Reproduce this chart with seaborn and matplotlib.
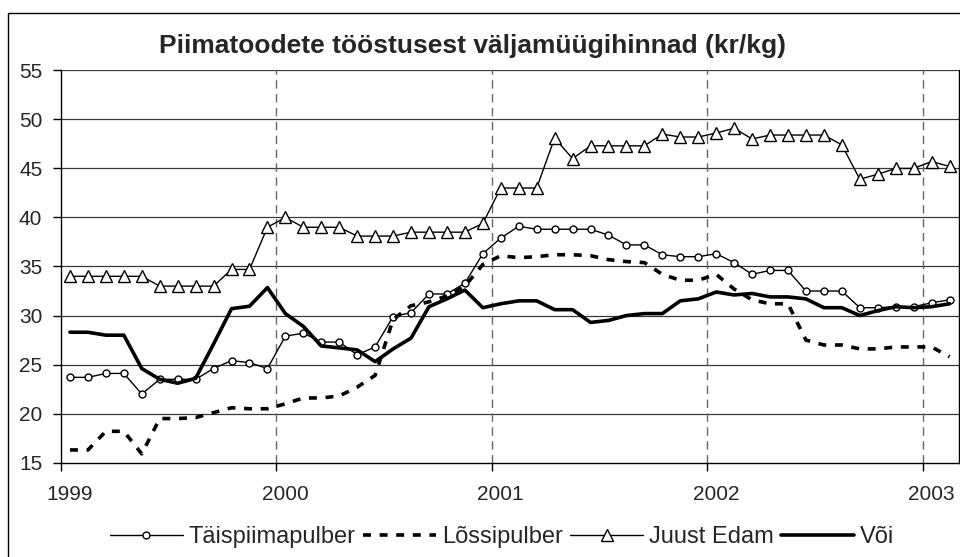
import numpy as np
import pandas as pd
import matplotlib
matplotlib.use("Agg")
import matplotlib.pyplot as plt
import seaborn as sns
from matplotlib.patches import Rectangle

# monthly prices, Jan 1999 .. Feb 2003
years = ["1999", "2000", "2001", "2002", "2003"]
n_months = 50

taispiim = [23.7, 23.7, 24.1, 24.1, 22.0, 23.5, 23.5, 23.5, 24.6, 25.4, 25.2, 24.6,
            27.9, 28.2, 27.3, 27.3, 26.0, 26.8, 29.9, 30.3, 32.2, 32.2, 33.3, 36.3,
            37.9, 39.1, 38.8, 38.8, 38.8, 38.8, 38.2, 37.2, 37.2, 36.2, 36.0, 36.0,
            36.3, 35.4, 34.2, 34.6, 34.6, 32.5, 32.5, 32.5, 30.8, 30.8, 30.9, 30.9,
            31.3, 31.6]
lossipulber = [16.3, 16.3, 18.2, 18.2, 15.9, 19.5, 19.5, 19.6, 20.1, 20.6, 20.5, 20.5,
               21.0, 21.6, 21.6, 21.8, 22.7, 23.9, 29.6, 31.0, 31.4, 32.0, 33.0, 35.2,
               36.1, 35.9, 36.0, 36.2, 36.2, 36.1, 35.7, 35.5, 35.4, 34.2, 33.6, 33.6,
               34.2, 32.7, 31.6, 31.2, 31.2, 27.5, 27.0, 27.0, 26.6, 26.6, 26.8, 26.8,
               26.8, 25.8]
juust_edam = [34.0, 34.0, 34.0, 34.0, 34.0, 33.0, 33.0, 33.0, 33.0, 34.7, 34.7, 39.0,
              40.0, 39.0, 39.0, 39.0, 38.1, 38.1, 38.1, 38.5, 38.5, 38.5, 38.5, 39.4,
              43.0, 43.0, 43.0, 48.1, 46.0, 47.3, 47.3, 47.3, 47.3, 48.5, 48.2, 48.2,
              48.6, 49.1, 48.0, 48.4, 48.4, 48.4, 48.4, 47.4, 43.9, 44.4, 45.0, 45.0,
              45.7, 45.2]
voi = [28.3, 28.3, 28.0, 28.0, 24.6, 23.5, 23.1, 23.6, 27.1, 30.7, 30.95, 32.85,
       30.2, 28.9, 26.9, 26.7, 26.5, 25.3, 26.6, 27.7, 30.9, 31.7, 32.6, 30.8,
       31.2, 31.5, 31.5, 30.6, 30.6, 29.3, 29.5, 30.0, 30.2, 30.2, 31.5, 31.7,
       32.4, 32.1, 32.25, 31.9, 31.9, 31.7, 30.8, 30.8, 30.0, 30.5, 30.9, 30.8,
       30.9, 31.2]

sns.set_style("white")
plt.rcParams['font.family'] = ['Liberation Sans', 'DejaVu Sans']

fig = plt.figure(figsize=(9.6, 5.57), dpi=100)
ax = fig.add_axes([61/960, 1-462.7/557, (958.5-61)/960, (462.7-70.3)/557])

x = np.arange(n_months) + 0.5   # category centres

sns.lineplot(x=x, y=taispiim, ax=ax, color='black', lw=1, marker='o', markersize=5,
             markerfacecolor='white', markeredgecolor='black', markeredgewidth=1,
             label='Täispiimapulber')
sns.lineplot(x=x, y=lossipulber, ax=ax, color='black', lw=2.6, label='Lõssipulber',
             dashes=False, linestyle=(0, (2.2, 2.4)))
sns.lineplot(x=x, y=juust_edam, ax=ax, color='black', lw=1, marker='^', markersize=9,
             markerfacecolor='white', markeredgecolor='black', markeredgewidth=1,
             label='Juust Edam')
sns.lineplot(x=x, y=voi, ax=ax, color='black', lw=2.6, label='Või')

ax.set_xlim(0, n_months)
ax.set_ylim(15, 55)
ax.set_yticks(np.arange(15, 56, 5))
# tick marks on year boundaries, labels centred on January
ax.set_xticks(np.arange(len(years)) * 12)
ax.set_xticklabels([])
ax.set_xticks(np.arange(len(years)) * 12 + 0.5, minor=True)
ax.set_xticklabels(years, minor=True)
ax.tick_params(axis='x', which='major', length=5.5, width=1, direction='out',
               color='black', bottom=True)
ax.tick_params(axis='x', which='minor', length=0, labelsize=15, pad=16, bottom=True)
ax.tick_params(axis='y', labelsize=15, length=5.5, width=1, direction='out', pad=8,
               color='black', left=True)

for yv in np.arange(20, 56, 5):
    ax.axhline(yv, color='#3a3a3a', lw=0.9, zorder=0)
for xv in np.arange(1, len(years)) * 12:
    ax.axvline(xv, color='#666666', lw=1, ls=(0, (6, 4)), zorder=0)

for s in ['left', 'bottom', 'right']:
    ax.spines[s].set_color('black')
    ax.spines[s].set_linewidth(1)
ax.spines['top'].set_visible(False)

ax.set_xlabel('')
ax.set_ylabel('')

fig.text(0.492, 1-53.5/557, 'Piimatoodete tööstusest väljamüügihinnad (kr/kg)',
         ha='center', va='baseline', fontsize=19, fontweight='bold')

handles, labels = ax.get_legend_handles_labels()
ax.legend(handles, labels, loc='center', bbox_to_anchor=(502/960, 1-537/557),
          bbox_transform=fig.transFigure, ncol=4, frameon=False, fontsize=17,
          handlelength=3.1, handletextpad=0.25, columnspacing=0.3, borderpad=0)

fig.patches.append(Rectangle((8/960, -0.05), 1.2, 1-13/557+0.05, transform=fig.transFigure,
                             fill=False, edgecolor='black', lw=1))

fig.savefig('out.png', dpi=100)
